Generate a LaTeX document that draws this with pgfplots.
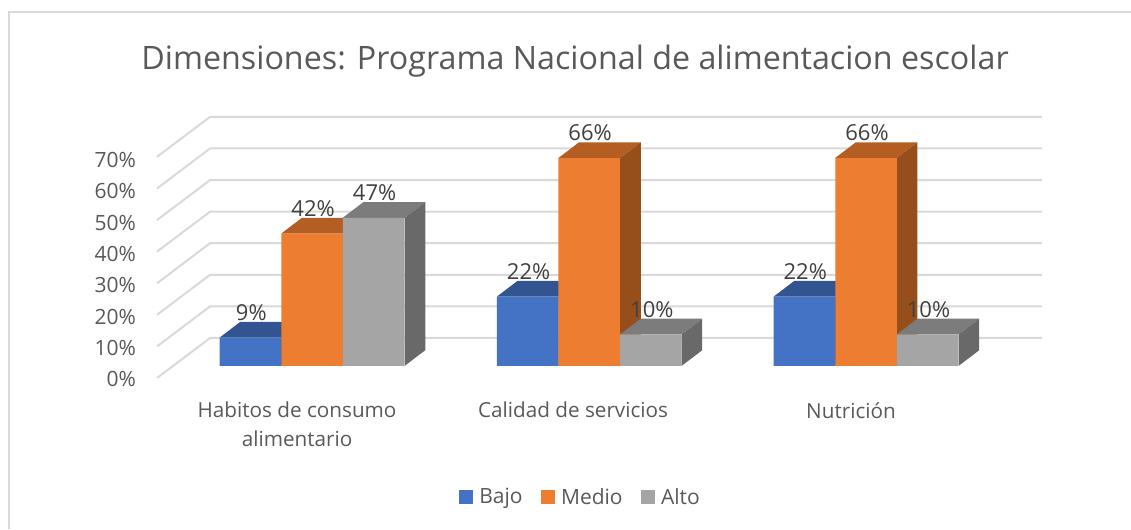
\documentclass[border=0pt]{standalone}
\usepackage{fontspec}
\setmainfont{Open Sans}
\usepackage{pgfplots}
\usepackage{pgfplotstable}
\pgfplotsset{compat=1.18}

\definecolor{wall}{HTML}{D9D9D9}
\definecolor{txt}{HTML}{595959}
\definecolor{lab}{HTML}{404040}
\definecolor{bajo}{HTML}{4472C4}
\definecolor{bajotop}{HTML}{325591}
\definecolor{medio}{HTML}{ED7D31}
\definecolor{mediotop}{HTML}{B55E24}
\definecolor{medioside}{HTML}{964F1A}
\definecolor{alto}{HTML}{A5A5A5}
\definecolor{altotop}{HTML}{7C7C7C}
\definecolor{altoside}{HTML}{696969}

% x is the left edge + half a bar, in image pixels; v in percent
\pgfplotstableread{
x v
250.25 9
527.5 22
804.25 22
}\bajotab
\pgfplotstableread{
x v
312 42
589 66
866 66
}\mediotab
\pgfplotstableread{
x v
373.5 47
650.75 10
927.5 10
}\altotab

% top and side of one bar: x0, x1, value, top colour, side colour
\newcommand{\barbox}[5]{%
  \pgfmathsetmacro{\xa}{#1+20.7}%
  \pgfmathsetmacro{\xb}{#2+20.7}%
  \pgfmathsetmacro{\vb}{#3+5}%
  \edef\temp{\noexpand\addplot[forget plot, fill=#4, draw=none] coordinates {(#1,#3) (#2,#3) (\xb,\vb) (\xa,\vb)} -- cycle;
    \noexpand\addplot[forget plot, fill=#5, draw=none] coordinates {(#2,0) (\xb,5) (\xb,\vb) (#2,#3)} -- cycle;}%
  \temp
}
% one wall line: front y, back y
\newcommand{\wallline}[2]{%
  \addplot[forget plot, wall, line width=2pt] coordinates {(157,#1) (210,#2) (1042,#2)};
}

\pgfplotsset{
  frontbar/.style={
    ybar, bar width=61.5, bar shift=0pt, draw=none, fill=#1,
    nodes near coords={\pgfmathprintnumber[assume math mode=true]{\pgfplotspointmeta}\%},
    every node near coord/.append style={anchor=center, xshift=1pt, yshift=25pt,
      font=\fontsize{22}{26}\selectfont, text=lab, inner sep=0pt},
  },
}

\begin{document}
\begin{tikzpicture}
\begin{axis}[
    scale only axis,
    width=1131pt, height=529pt,
    xmin=0, xmax=1131,
    ymin=-51.746, ymax=116.19,
    axis line style={draw=none},
    major tick length=0pt,
    ytick pos=left, xtick pos=bottom,
    ytick={-4.2,5.75,15.7,25.65,35.6,45.55,55.5,65.45},
    yticklabels={0\%,10\%,20\%,30\%,40\%,50\%,60\%,70\%},
    yticklabel style={anchor=east, xshift=136pt, inner sep=0pt,
      font=\fontsize{21}{25}\selectfont, text=txt},
    xtick={297,573,851},
    xticklabels={{Habitos de consumo\\alimentario},{Calidad de servicios},{Nutrición}},
    xticklabel style={anchor=north, yshift=127pt, align=center, inner sep=0pt,
      font=\fontsize{20.7}{29}\selectfont, text=txt},
    title={Dimensiones: Programa Nacional de alimentacion escolar},
    title style={at={(0.5084,0.873)}, anchor=center, inner sep=0pt,
      font=\fontsize{32.25}{40}\selectfont, text=txt},
    legend columns=3,
    legend style={at={(axis cs:580.5,-41.6)}, anchor=center, draw=none, fill=none,
      inner sep=0pt, font=\fontsize{21}{25}\selectfont, text=txt,
      /tikz/every even column/.append style={column sep=16.5pt}},
    legend image code/.code={\fill[#1] (0pt,-7pt) rectangle (14pt,7pt); \path (18pt,0pt);},
]
% frame
\addplot[forget plot, wall, line width=2pt] coordinates {(9,-51.746) (9,112.38) (1131,112.38)};
% wall lines
\wallline{-3.81}{8.89}
\wallline{6.22}{18.92}
\wallline{16.25}{28.95}
\wallline{26.28}{38.98}
\wallline{36.31}{49.01}
\wallline{46.34}{59.04}
\wallline{56.37}{69.07}
\wallline{66.40}{79.10}

\barbox{219.5}{281}{9}{bajotop}{bajotop}
\barbox{496.75}{558.25}{22}{bajotop}{bajotop}
\barbox{773.5}{835}{22}{bajotop}{bajotop}
\addplot[frontbar=bajo] table[x=x, y=v] {\bajotab};
\addlegendentry{Bajo}

\barbox{281}{342.5}{42}{mediotop}{medioside}
\barbox{558.25}{620}{66}{mediotop}{medioside}
\barbox{835}{896.75}{66}{mediotop}{medioside}
\addplot[frontbar=medio] table[x=x, y=v] {\mediotab};
\addlegendentry{Medio}

\barbox{342.5}{404.5}{47}{altotop}{altoside}
\barbox{620}{681.5}{10}{altotop}{altoside}
\barbox{896.75}{958.5}{10}{altotop}{altoside}
\addplot[frontbar=alto] table[x=x, y=v] {\altotab};
\addlegendentry{Alto}
\end{axis}
\end{tikzpicture}
\end{document}
